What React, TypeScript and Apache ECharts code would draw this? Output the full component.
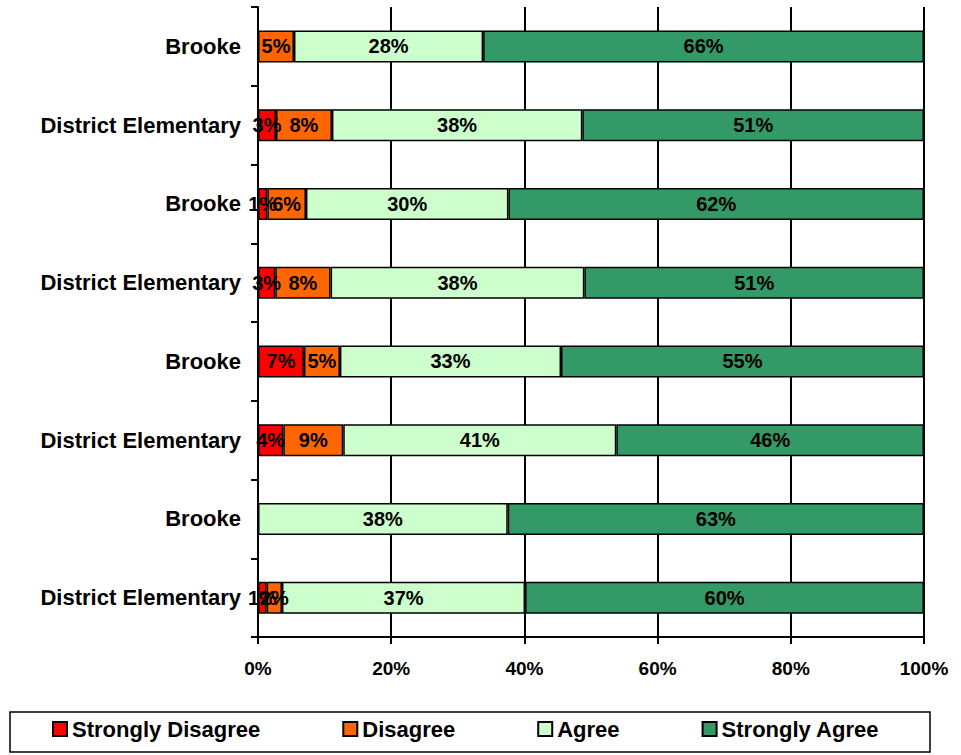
import React, { useEffect, useRef } from "react";
import * as echarts from "echarts";

const categories = [
  "Brooke",
  "District Elementary",
  "Brooke",
  "District Elementary",
  "Brooke",
  "District Elementary",
  "Brooke",
  "District Elementary",
];
const seriesNames = ["Strongly Disagree", "Disagree", "Agree", "Strongly Agree"];
const stronglyDisagree = [0, 2.7, 1.4, 2.6, 6.9, 3.8, 0, 1.3];
const disagree = [5.4, 8.4, 5.8, 8.3, 5.4, 9.0, 0, 2.3];
const agree = [28.4, 37.6, 30.4, 38.1, 33.2, 41.0, 37.5, 36.5];
const stronglyAgree = [66.2, 51.3, 62.4, 51.0, 54.5, 46.2, 62.5, 59.9];
const xTicks = [0, 20, 40, 60, 80, 100];

const colors = ["#FF0000", "#FF6600", "#CCFFCC", "#339966"];
const FONT = "'Liberation Sans', Arial, sans-serif";

export default function App() {
  const ref = useRef<HTMLDivElement>(null);
  useEffect(() => {
    if (!ref.current) return;
    const chart = echarts.init(ref.current, null, { renderer: "svg" });
    const values = [stronglyDisagree, disagree, agree, stronglyAgree];
    chart.setOption({
      animation: false,
      backgroundColor: "#ffffff",
      textStyle: { fontFamily: FONT },
      grid: { left: 258, right: 37, top: 7, bottom: 118, containLabel: false },
      legend: {
        bottom: 10,
        left: 47,
        itemWidth: 14,
        itemHeight: 14,
        itemGap: 82,
        icon: "rect",
        data: seriesNames,
        textStyle: { fontFamily: FONT, fontSize: 22, fontWeight: "bold", color: "#000" },
      },
      xAxis: {
        type: "value",
        min: xTicks[0],
        max: xTicks[xTicks.length - 1],
        interval: 20,
        axisLine: { show: true, lineStyle: { color: "#000", width: 2 } },
        axisTick: { show: true, length: 7, lineStyle: { color: "#000", width: 2 } },
        axisLabel: {
          formatter: "{value}%",
          fontFamily: FONT,
          fontSize: 19,
          fontWeight: "bold",
          color: "#000",
          margin: 22,
        },
        splitLine: { show: true, lineStyle: { color: "#000", width: 2 } },
      },
      yAxis: {
        type: "category",
        inverse: true,
        data: categories,
        axisLine: { show: true, lineStyle: { color: "#000", width: 2 } },
        axisTick: { show: true, length: 7, lineStyle: { color: "#000", width: 2 } },
        axisLabel: {
          fontFamily: FONT,
          fontSize: 22,
          fontWeight: "bold",
          color: "#000",
          margin: 17,
        },
      },
      series: seriesNames.map((name, i) => ({
        name,
        type: "bar",
        stack: "total",
        barWidth: 32,
        data: values[i].map((v) => (v === 0 ? null : v)),
        itemStyle: { color: colors[i], borderColor: "#000", borderWidth: 1.5 },
        label: {
          show: true,
          position: "inside",
          formatter: (p: any) => `${Math.round(p.value)}%`,
          fontFamily: FONT,
          fontSize: 20,
          fontWeight: "bold",
          color: "#000",
        },
      })),
      graphic: [
        {
          type: "rect",
          shape: { x: 10, y: 712, width: 920, height: 40 },
          style: { fill: "none", stroke: "#000", lineWidth: 1.5 },
          z: -1,
        },
      ],
    });
    return () => chart.dispose();
  }, []);
  return (
    <div
      ref={ref}
      style={{ position: "fixed", left: 0, top: 0, width: 961, height: 755 }}
    />
  );
}
